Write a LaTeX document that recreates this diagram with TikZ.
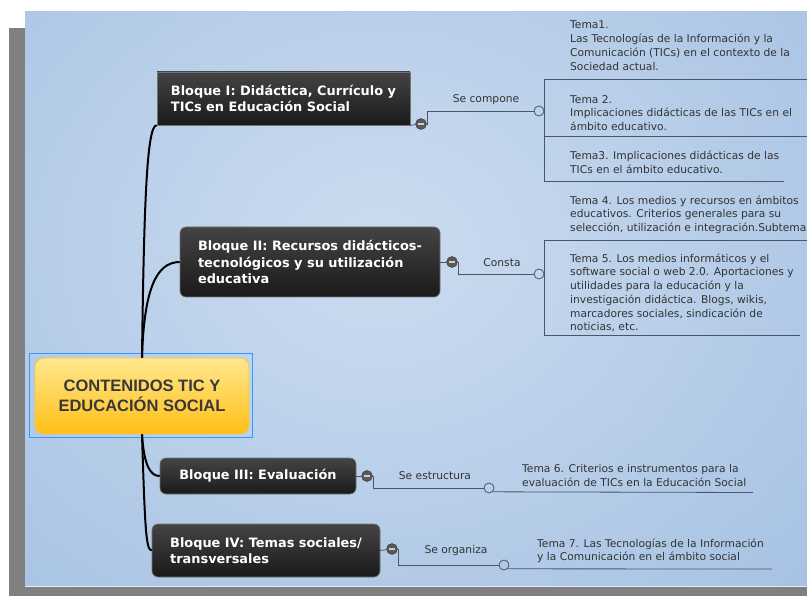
\documentclass[tikz,border=0pt]{standalone}
\usepackage{fontspec}
\setmainfont{DejaVu Sans}
\newfontfamily\rootfont{Liberation Sans}
\usetikzlibrary{positioning}
\definecolor{bgout}{HTML}{A2BFE2}
\definecolor{bgin}{HTML}{CCDCEF}
\definecolor{frame}{HTML}{808080}
\definecolor{boxtop}{HTML}{444444}
\definecolor{boxbot}{HTML}{1A1A1A}
\definecolor{rootA}{HTML}{FFE78E}
\definecolor{rootB}{HTML}{FFBF16}
\definecolor{rootedge}{HTML}{F2C84B}
\definecolor{selblue}{HTML}{3399FF}
\definecolor{wirec}{HTML}{4A5664}
\definecolor{ink}{HTML}{333333}
\tikzset{
  bloque/.style={draw=black!55, line width=0.6pt, top color=boxtop, bottom color=boxbot,
    rounded corners=6pt, text=white, align=left, inner sep=0pt,
    font=\bfseries\fontsize{12.9}{16.5}\selectfont},
  tema/.style={anchor=north west, inner sep=0pt, align=left, text=ink,
    font=\fontsize{10.7}{13.7}\selectfont},
  rel/.style={inner sep=1pt, text=ink, font=\fontsize{10.7}{12}\selectfont},
  minus/.style={circle, draw=black!80, fill=black!65, minimum size=11pt, inner sep=0pt,
    path picture={\draw[black!20, line width=1.3pt]
      ([xshift=-3pt]path picture bounding box.center) -- ([xshift=3pt]path picture bounding box.center);}},
  hook/.style={circle, draw=wirec, line width=0.8pt, minimum size=10pt, inner sep=0pt},
  trunk/.style={draw=black, line width=2pt},
  link/.style={draw=wirec, line width=0.8pt},
}
\begin{document}
\begin{tikzpicture}[x=1pt,y=-1pt]
  \useasboundingbox (0,0) rectangle (807,596);
  \fill[white] (0,0) rectangle (807,596);
  \fill[frame] (9,28) rectangle (25,596);
  \fill[frame] (9,587) rectangle (807,596);
  \begin{scope}
    \clip (25,12) rectangle (807,586);
    \fill[bgout] (25,12) rectangle (807,586);
    \shade[inner color=bgin, outer color=bgout] (380,250) ellipse (660pt and 540pt);
  \end{scope}
  \draw[white!70!bgout, line width=1pt] (25,586.5) -- (807,586.5);

  % central topic
  \node[draw=rootedge, line width=0.8pt, rounded corners=9pt, top color=rootA, bottom color=rootB,
    minimum width=214pt, minimum height=76pt, align=center, text=black!78,
    font=\rootfont\bfseries\fontsize{16.5}{20}\selectfont] (root) at (142,396)
    {CONTENIDOS TIC Y\\EDUCACIÓN SOCIAL};
  \draw[selblue, line width=1.2pt] ([shift={(-5pt,4pt)}]root.north west) rectangle ([shift={(3pt,-3pt)}]root.south east);

  % main topics
  \node[bloque, rounded corners=0pt, minimum width=253pt, minimum height=53pt] (b1) at (283.5,98.5)
    {Bloque I: Didáctica, Currículo y\\TICs en Educación Social};
  \node[bloque, minimum width=260pt, minimum height=70pt] (b2) at (310,262)
    {Bloque II: Recursos didácticos-\\tecnológicos y su utilización\\educativa};
  \node[bloque, minimum width=196pt, minimum height=36pt] (b3) at (258,476) {Bloque III: Evaluación};
  \node[bloque, minimum width=228pt, minimum height=53pt] (b4) at (266,550.5)
    {Bloque IV: Temas sociales/\\transversales};

  \draw[trunk] (root.north) .. controls (144,200) and (147,125) .. (b1.south west);
  \draw[trunk] (root.north) .. controls (144,290) and (156,262) .. (b2.west);
  \draw[trunk] (root.south) .. controls (144,465) and (150,476) .. (b3.west);
  \draw[trunk] (root.south) .. controls (145,530) and (146,550) .. (b4.west);

  % collapse buttons and hooks
  \node[minus] (m1) at (421,124) {};
  \node[minus] (m2) at (452,262) {};
  \node[minus] (m3) at (367,476) {};
  \node[minus] (m4) at (392,549) {};
  \node[hook] (h1) at (539,111) {};
  \node[hook] (h2) at (539,274) {};
  \node[hook] (h3) at (489,488) {};
  \node[hook] (h4) at (504,565) {};

  \draw[link] (b1.south east) -- (m1);
  \draw[link] (b2.east) -- (m2);
  \draw[link] (b3.east) -- (m3);
  \draw[link] (b4.east) -- (m4);
  \draw[link] (m1.east) -- ++(1pt,0) |- (h1.west);
  \draw[link] (m2.east) -- ++(1pt,0) |- (h2.west);
  \draw[link] (m3.east) -- ++(1pt,0) |- (h3.west);
  \draw[link] (m4.east) -- ++(1pt,0) |- (h4.west);

  \node[rel] (r1) at (486,100) {Se compone};
  \node[rel] (r2) at (502,263) {Consta};
  \node[rel] (r3) at (435,476) {Se estructura};
  \node[rel] (r4) at (456,551) {Se organiza};

  % subtopics
  \draw[link] (544,79) -- (544,181);
  \draw[link] (544,79) -- (807,79);
  \draw[link] (544,136) -- (807,136);
  \draw[link] (544,181) -- (784,181);
  \draw[link] (544,240) -- (544,335);
  \draw[link] (544,240) -- (807,240);
  \draw[link] (544,335) -- (800,335);
  \draw[link] (h3.south east) -- (753,492.5);
  \draw[link] (h4.south east) -- (772,569);

  \node[tema] (t1) at (570,21) {Tema1.\\Las Tecnologías de la Información y la\\Comunicación (TICs) en el contexto de la\\Sociedad actual.};
  \node[tema] (t2) at (570,95) {Tema 2.\\Implicaciones didácticas de las TICs en el\\ámbito educativo.};
  \node[tema] (t3) at (570,151) {Tema3. Implicaciones didácticas de las\\TICs en el ámbito educativo.};
  \node[tema] (t4) at (570,195.5) {Tema 4. Los medios y recursos en ámbitos\\educativos. Criterios generales para su\\selección, utilización e integración.Subtema};
  \node[tema] (t5) at (570,253.5) {Tema 5. Los medios informáticos y el\\software social o web 2.0. Aportaciones y\\utilidades para la educación y la\\investigación didáctica. Blogs, wikis,\\marcadores sociales, sindicación de\\noticias, etc.};
  \node[tema] (t6) at (522,464) {Tema 6. Criterios e instrumentos para la\\evaluación de TICs en la Educación Social};
  \node[tema] (t7) at (537,538.5) {Tema 7. Las Tecnologías de la Información\\y la Comunicación en el ámbito social};
\end{tikzpicture}
\end{document}
